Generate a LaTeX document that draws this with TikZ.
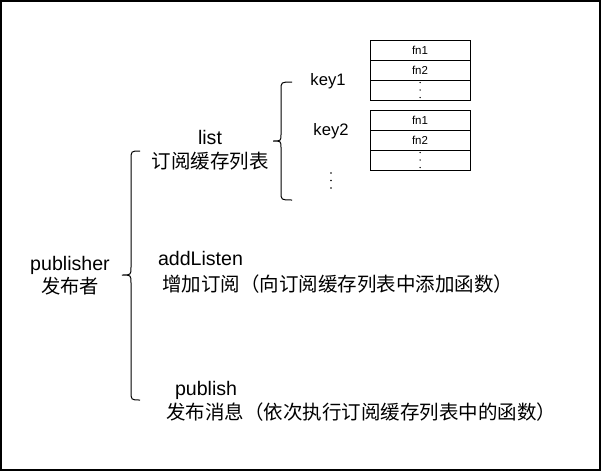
\documentclass[tikz,border=0pt]{standalone}
\usepackage{fontspec}
\setmainfont{Liberation Sans}
\newfontfamily\cjk{Noto Sans CJK SC}
\begin{document}
\begin{tikzpicture}[x=1pt,y=-1pt,
  lbl/.style={inner sep=0pt,outer sep=0pt,font=\fontsize{19.6}{23}\selectfont},
  keylbl/.style={inner sep=0pt,outer sep=0pt,font=\fontsize{16.6}{20}\selectfont},
  cell/.style={draw,line width=1pt,minimum width=100pt,minimum height=20pt,inner sep=0pt,outer sep=0pt,font=\fontsize{11.5}{13}\selectfont},
  brace/.style={draw,line width=1pt},
  dot/.style={fill,circle,inner sep=0pt,minimum size=1.9pt}]
\useasboundingbox (0,0) rectangle (601,471);
\draw[line width=1.5pt] (0.75,0.75) rectangle (600,470);

% publisher
\node[lbl,anchor=base] (pub) at (70,270) {publisher};
\node[lbl,anchor=base] (pubcn) at (70,293) {\cjk\fontsize{19.3}{23}\selectfont 发布者};

% big brace
\coordinate (bt) at (140,151);
\coordinate (bb) at (140,400);
\coordinate (btip) at (122,275);
\draw[brace] (bt) .. controls (131,151) .. (131,160) -- (131,267)
  .. controls (131,275) .. (btip) .. controls (131,275) .. (131,283)
  -- (131,391) .. controls (131,400) .. (bb);

% list
\node[lbl,anchor=base] (list) at (210,144) {list};
\node[lbl,anchor=base] (listcn) at (210,168) {\cjk\fontsize{19.5}{23}\selectfont 订阅缓存列表};

% small brace
\coordinate (st) at (292,82);
\coordinate (sb) at (292,200);
\coordinate (stip) at (273,141);
\draw[brace] (st) .. controls (281,82) .. (281,90) -- (281,134)
  .. controls (281,141) .. (stip) .. controls (281,141) .. (281,148)
  -- (281,192) .. controls (281,200) .. (sb);

% keys
\node[keylbl,anchor=base] (key1) at (328,85) {key1};
\node[keylbl,anchor=base] (key2) at (331,135) {key2};
\node[dot] (kd1) at (331,173) {};
\node[dot] (kd2) at (331,180.5) {};
\node[dot] (kd3) at (331,188) {};

% table 1
\node[cell] (t1a) at (420,50) {fn1};
\node[cell] (t1b) at (420,70) {fn2};
\node[cell] (t1c) at (420,90) {};
\node[dot,minimum size=1.5pt] (t1d1) at (420,82.5) {};
\node[dot,minimum size=1.5pt] (t1d2) at (420,90) {};
\node[dot,minimum size=1.5pt] (t1d3) at (420,97.5) {};

% table 2
\node[cell] (t2a) at (420,120) {fn1};
\node[cell] (t2b) at (420,140) {fn2};
\node[cell] (t2c) at (420,160) {};
\node[dot,minimum size=1.5pt] (t2d1) at (420,152.5) {};
\node[dot,minimum size=1.5pt] (t2d2) at (420,160) {};
\node[dot,minimum size=1.5pt] (t2d3) at (420,167.5) {};

% addListen
\node[lbl,anchor=base west] (add) at (158,265) {addListen};
\node[lbl,anchor=base west] (addcn) at (162,291) {\cjk\fontsize{19.5}{23}\selectfont 增加订阅（向订阅缓存列表中添加函数）};

% publish
\node[lbl,anchor=base west] (pubm) at (175,395) {publish};
\node[lbl,anchor=base west] (pubmcn) at (166,419) {\cjk\fontsize{19.5}{23}\selectfont 发布消息（依次执行订阅缓存列表中的函数）};
\end{tikzpicture}
\end{document}
